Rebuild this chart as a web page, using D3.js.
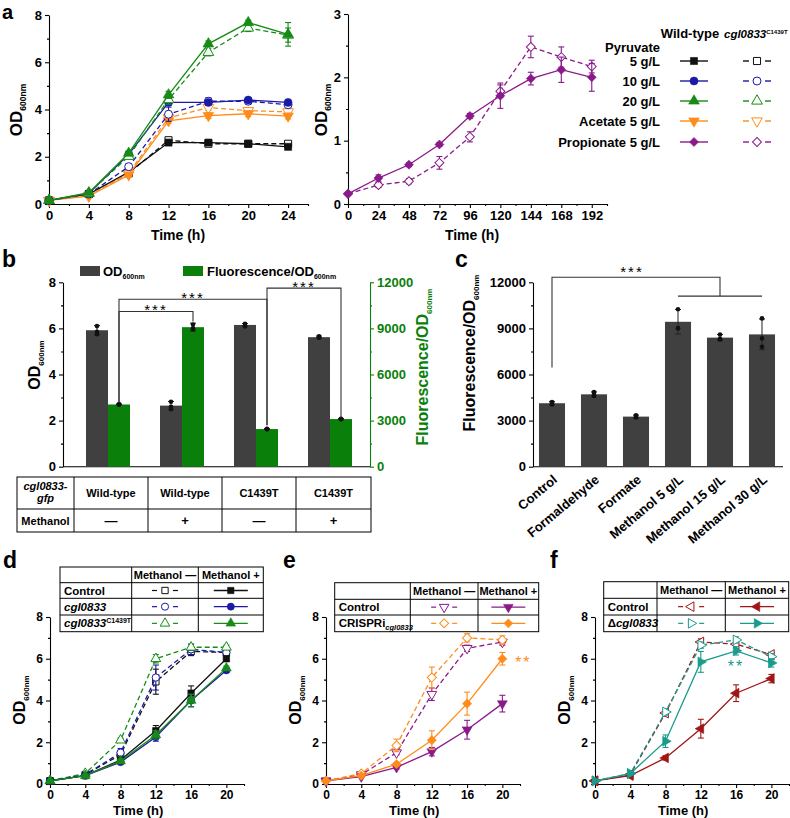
<!DOCTYPE html>
<html>
<head>
<meta charset="utf-8">
<script src="https://cdn.jsdelivr.net/npm/d3@7"></script>
<style>
body { margin: 0; background: #fff; }
svg { font-family: "Liberation Sans", Arial, Helvetica, sans-serif; font-weight: bold; }
</style>
</head>
<body>
<svg id="fig" width="790" height="818"></svg>
<script>
// ---------- data: panel a
var timeA = [0, 4, 8, 12, 16, 20, 24];
var pyr5WT = [0.15, 0.42, 1.35, 2.6, 2.6, 2.55, 2.42];
var pyr5WTErr = [0.02, 0.04, 0.08, 0.08, 0.08, 0.06, 0.1];
var pyr5Mut = [0.15, 0.42, 1.3, 2.7, 2.55, 2.55, 2.55];
var pyr5MutErr = [0.02, 0.04, 0.08, 0.1, 0.12, 0.06, 0.08];
var pyr10WT = [0.15, 0.45, 2.1, 4.3, 4.3, 4.4, 4.3];
var pyr10WTErr = [0.02, 0.04, 0.1, 0.12, 0.12, 0.1, 0.08];
var pyr10Mut = [0.15, 0.42, 1.58, 3.8, 4.35, 4.35, 4.2];
var pyr10MutErr = [0.02, 0.04, 0.12, 0.3, 0.15, 0.12, 0.12];
var pyr20WT = [0.15, 0.48, 2.15, 4.62, 6.78, 7.68, 7.18];
var pyr20WTErr = [0.02, 0.04, 0.1, 0.15, 0.12, 0.1, 0.5];
var pyr20Mut = [0.15, 0.45, 2.02, 4.42, 6.42, 7.45, 7.15];
var pyr20MutErr = [0.02, 0.04, 0.12, 0.2, 0.15, 0.15, 0.3];
var ace5WT = [0.15, 0.33, 1.23, 3.52, 3.74, 3.82, 3.72];
var ace5WTErr = [0.02, 0.04, 0.08, 0.1, 0.12, 0.12, 0.12];
var ace5Mut = [0.15, 0.36, 1.3, 3.65, 4.08, 3.95, 3.9];
var ace5MutErr = [0.02, 0.04, 0.08, 0.15, 0.12, 0.12, 0.1];

var timeProp = [0, 24, 48, 72, 96, 120, 144, 168, 192];
var propWT = [0.16, 0.41, 0.62, 0.94, 1.39, 1.71, 1.98, 2.12, 2.0];
var propWTErr = [0.02, 0.05, 0.03, 0.03, 0.04, 0.2, 0.1, 0.2, 0.22];
var propMut = [0.16, 0.3, 0.36, 0.65, 1.06, 1.78, 2.48, 2.32, 2.17];
var propMutErr = [0.02, 0.04, 0.04, 0.1, 0.08, 0.1, 0.17, 0.16, 0.1];

var legendA = [['Pyruvate', '5 g/L'], ['10 g/L'], ['20 g/L'], ['Acetate 5 g/L'], ['Propionate 5 g/L']];

// ---------- data: panel b
var bReporter = ['Wild-type', 'Wild-type', 'C1439T', 'C1439T'];
var bMethanol = ['\u2014', '+', '\u2014', '+'];
var bOD = [5.92, 2.65, 6.15, 5.62];
var bODErr = [0.2, 0.18, 0.06, 0.05];
var bODDots = [[6.1, 5.85, 5.75], [2.82, 2.6, 2.5], [6.2, 6.12, 6.08], [5.66, 5.6, 5.6]];
var bFl = [4050, 9080, 2450, 3100];
var bFlErr = [40, 260, 40, 40];
var bFlDots = [[4060, 4040, 4050], [9250, 9000, 8950], [2440, 2460, 2450], [3100, 3110, 3090]];

// ---------- data: panel c
var cCats = ['Control', 'Formaldehyde', 'Formate', 'Methanol 5 g/L', 'Methanol 15 g/L', 'Methanol 30 g/L'];
var cVals = [4130, 4710, 3260, 9430, 8400, 8610];
var cErr = [120, 160, 100, 800, 200, 1000];
var cDots = [[4050, 4200, 4150], [4600, 4850, 4700], [3200, 3350, 3250], [10250, 9030, 9000], [8600, 8280, 8320], [9650, 8350, 7800]];

// ---------- data: panels d, e, f
var timeD = [0, 4, 8, 12, 16, 20];
var dCtrlMinus = [0.15, 0.45, 1.4, 4.9, 6.35, 6.3];
var dCtrlMinusErr = [0.02, 0.05, 0.2, 0.6, 0.2, 0.15];
var dCglMinus = [0.15, 0.45, 1.5, 5.1, 6.45, 6.3];
var dCglMinusErr = [0.02, 0.05, 0.2, 0.6, 0.25, 0.15];
var dMutMinus = [0.15, 0.5, 2.1, 6.0, 6.55, 6.55];
var dMutMinusErr = [0.02, 0.05, 0.1, 0.2, 0.15, 0.1];
var dCtrlPlus = [0.15, 0.4, 1.15, 2.55, 4.35, 6.0];
var dCtrlPlusErr = [0.02, 0.04, 0.1, 0.25, 0.35, 0.1];
var dCglPlus = [0.15, 0.4, 1.05, 2.25, 4.0, 5.45];
var dCglPlusErr = [0.02, 0.04, 0.08, 0.2, 0.3, 0.1];
var dMutPlus = [0.15, 0.4, 1.1, 2.35, 4.0, 5.55];
var dMutPlusErr = [0.02, 0.04, 0.08, 0.2, 0.3, 0.1];

var eCtrlMinus = [0.15, 0.45, 1.5, 4.3, 6.5, 6.8];
var eCtrlMinusErr = [0.02, 0.05, 0.1, 0.3, 0.15, 0.15];
var eCrMinus = [0.15, 0.5, 1.85, 5.1, 7.0, 6.9];
var eCrMinusErr = [0.02, 0.05, 0.3, 0.5, 0.2, 0.2];
var eCtrlPlus = [0.15, 0.35, 0.8, 1.55, 2.6, 3.85];
var eCtrlPlusErr = [0.02, 0.04, 0.08, 0.2, 0.45, 0.4];
var eCrPlus = [0.15, 0.4, 0.95, 2.1, 3.85, 6.0];
var eCrPlusErr = [0.02, 0.04, 0.08, 0.45, 0.55, 0.3];

var fCtrlMinus = [0.15, 0.45, 3.4, 6.8, 6.7, 6.2];
var fCtrlMinusErr = [0.02, 0.05, 0.15, 0.15, 0.15, 0.1];
var fDelMinus = [0.15, 0.5, 3.45, 6.65, 6.9, 6.1];
var fDelMinusErr = [0.02, 0.05, 0.15, 0.15, 0.15, 0.15];
var fCtrlPlus = [0.15, 0.4, 1.25, 2.65, 4.35, 5.05];
var fCtrlPlusErr = [0.02, 0.04, 0.1, 0.45, 0.4, 0.2];
var fDelPlus = [0.15, 0.5, 2.05, 5.85, 6.38, 5.8];
var fDelPlusErr = [0.02, 0.05, 0.3, 0.5, 0.2, 0.2];

// colours
var cBlack = '#111111', cBlue = '#1a1aa6', cGreen = '#168c16', cOrange = '#ff8c1a',
    cPurple = '#8a1a8a', cRed = '#a01515', cTeal = '#1a9c8c', cBar = '#404040', cBarGreen = '#0a800a';
var FONT = '"Liberation Sans", Arial, Helvetica, sans-serif';

var svg = d3.select('#fig');

// ---------- helpers
function styleAxis(a, fs, color) {
    a.attr('font-family', FONT).attr('font-size', fs).attr('font-weight', 'bold');
    a.selectAll('path, line').attr('stroke', color || '#000').attr('stroke-width', 1.1);
    a.selectAll('text').attr('fill', color || '#000');
}

function drawAxis(g, make, scale, major, minor, tr, fs, color, pad) {
    var a = g.append('g').attr('transform', tr)
        .call(make(scale).tickValues(major).tickSize(4).tickSizeOuter(0).tickPadding(pad || 3).tickFormat(d3.format('d')));
    styleAxis(a, fs, color);
    if (minor) {
        var m = g.append('g').attr('transform', tr)
            .call(make(scale).tickValues(minor).tickSize(2).tickSizeOuter(0).tickFormat(''));
        m.select('.domain').remove();
        styleAxis(m, fs, color);
    }
    return a;
}

var ROT = {square: 0, circle: 0, diamond: 45, up: 0, down: 180, left: -90, right: 90};
function drawMarker(g, cx, cy, type, color, open, size) {
    var s = type === 'circle' ? d3.symbolCircle : (type === 'square' || type === 'diamond') ? d3.symbolSquare : d3.symbolTriangle;
    g.append('path').attr('d', d3.symbol(s, size)())
        .attr('transform', 'translate(' + cx + ',' + cy + ') rotate(' + ROT[type] + ')')
        .attr('fill', open ? '#fff' : color)
        .attr('stroke', color).attr('stroke-width', open ? 1 : 0.6);
}

function drawSeries(g, x, y, xs, ys, errs, st) {
    var line = d3.line().x(function(d, i) { return x(xs[i]); }).y(function(d) { return y(d); });
    g.append('path').datum(ys).attr('d', line).attr('fill', 'none')
        .attr('stroke', st.color).attr('stroke-width', 1.3)
        .attr('stroke-dasharray', st.open ? '5,3' : null);
    ys.forEach(function(v, i) {
        var cx = x(xs[i]), e = errs[i];
        var eg = g.append('g').attr('stroke', st.color).attr('stroke-width', 1.1);
        eg.append('line').attr('x1', cx).attr('x2', cx).attr('y1', y(v - e)).attr('y2', y(v + e));
        [v - e, v + e].forEach(function(w) {
            eg.append('line').attr('x1', cx - 3).attr('x2', cx + 3).attr('y1', y(w)).attr('y2', y(w));
        });
    });
    ys.forEach(function(v, i) {
        drawMarker(g, x(xs[i]), y(v), st.shape, st.color, st.open, st.size || 45);
    });
}

function odTitle(g, x, y, fs, color, pre) {
    var t = g.append('text').attr('transform', 'translate(' + x + ',' + y + ') rotate(-90)')
        .attr('text-anchor', 'middle').attr('font-size', fs).attr('fill', color || '#000');
    t.append('tspan').text((pre || '') + 'OD');
    t.append('tspan').attr('font-size', fs * 0.5).attr('dy', fs * 0.25).text('600nm');
}

function panelLetter(x, y, s, fs) {
    svg.append('text').attr('x', x).attr('y', y).attr('font-size', fs || 23).text(s);
}

function stars(g, x, y, txt, color, fs) {
    g.append('text').attr('x', x).attr('y', y).attr('text-anchor', 'middle')
        .attr('font-size', fs || 15).attr('font-weight', 'normal').attr('letter-spacing', 2)
        .attr('fill', color || '#000').text(txt);
}

// ---------- panel a (left)
var gA = svg.append('g');
var xA = d3.scaleLinear([0, 26], [49, 308]);
var yA = d3.scaleLinear([0, 8], [204, 15]);
drawAxis(gA, d3.axisBottom, xA, d3.range(0, 25, 4), d3.range(2, 27, 4), 'translate(0,' + yA(0) + ')', 13);
drawAxis(gA, d3.axisLeft, yA, [0, 2, 4, 6, 8], [1, 3, 5, 7], 'translate(' + xA(0) + ',0)', 13);
gA.append('text').attr('x', 178).attr('y', 240).attr('text-anchor', 'middle').attr('font-size', 14).text('Time (h)');
odTitle(gA, 22, 110, 17);
[
    [pyr5Mut, pyr5MutErr, cBlack, 'square', true], [pyr5WT, pyr5WTErr, cBlack, 'square', false],
    [ace5Mut, ace5MutErr, cOrange, 'down', true], [ace5WT, ace5WTErr, cOrange, 'down', false],
    [pyr10Mut, pyr10MutErr, cBlue, 'circle', true], [pyr10WT, pyr10WTErr, cBlue, 'circle', false],
    [pyr20Mut, pyr20MutErr, cGreen, 'up', true], [pyr20WT, pyr20WTErr, cGreen, 'up', false]
].forEach(function(s) {
    drawSeries(gA, xA, yA, timeA, s[0], s[1], {color: s[2], shape: s[3], open: s[4], size: 50});
});

// ---------- panel a (right)
var gA2 = svg.append('g');
var xA2 = d3.scaleLinear([0, 204], [348, 607]);
var yA2 = d3.scaleLinear([0, 3], [204, 14]);
drawAxis(gA2, d3.axisBottom, xA2, d3.range(0, 193, 24), d3.range(12, 205, 24), 'translate(0,' + yA2(0) + ')', 13);
drawAxis(gA2, d3.axisLeft, yA2, [0, 1, 2, 3], [0.5, 1.5, 2.5], 'translate(' + xA2(0) + ',0)', 13);
gA2.append('text').attr('x', 472).attr('y', 240).attr('text-anchor', 'middle').attr('font-size', 14).text('Time (h)');
odTitle(gA2, 327, 110, 17);
drawSeries(gA2, xA2, yA2, timeProp, propMut, propMutErr, {color: cPurple, shape: 'diamond', open: true, size: 40});
drawSeries(gA2, xA2, yA2, timeProp, propWT, propWTErr, {color: cPurple, shape: 'diamond', open: false, size: 40});

// legend a
var legA = svg.append('g').attr('font-size', 13);
legA.append('text').attr('x', 690).attr('y', 38).attr('text-anchor', 'middle').text('Wild-type');
var hdr = legA.append('text').attr('x', 724).attr('y', 38).attr('font-size', 11.5);
hdr.append('tspan').attr('font-style', 'italic').text('cgl0833');
hdr.append('tspan').attr('font-size', 6).attr('dy', -4).text('C1439T');
var legY = [61, 81, 101, 121, 142];
var legStyle = [[cBlack, 'square'], [cBlue, 'circle'], [cGreen, 'up'], [cOrange, 'down'], [cPurple, 'diamond']];
legendA.forEach(function(lab, i) {
    var cy = legY[i];
    if (lab.length === 2) {
        legA.append('text').attr('x', 660).attr('y', cy - 9).attr('text-anchor', 'end').text(lab[0]);
        legA.append('text').attr('x', 660).attr('y', cy + 4.5).attr('text-anchor', 'end').text(lab[1]);
    } else {
        legA.append('text').attr('x', 660).attr('y', cy + 4.5).attr('text-anchor', 'end').text(lab[0]);
    }
    var col = legStyle[i][0], sh = legStyle[i][1];
    legA.append('line').attr('x1', 680).attr('x2', 708).attr('y1', cy).attr('y2', cy).attr('stroke', col).attr('stroke-width', 1.4);
    drawMarker(legA, 694, cy, sh, col, false, sh === 'diamond' ? 40 : 50);
    [[743, 749], [765, 771]].forEach(function(p) {
        legA.append('line').attr('x1', p[0]).attr('x2', p[1]).attr('y1', cy).attr('y2', cy).attr('stroke', col).attr('stroke-width', 1.4);
    });
    drawMarker(legA, 757, cy, sh, col, true, sh === 'diamond' ? 40 : 50);
});

// ---------- panel b
var gB = svg.append('g');
var xB = d3.scaleBand(d3.range(bOD.length), [71, 367]);
var yB = d3.scaleLinear([0, 8], [466.7, 282.3]);
var yB2 = d3.scaleLinear([0, 12000], [466.7, 282.3]);
var barW = 22;
drawAxis(gB, d3.axisLeft, yB, [0, 2, 4, 6, 8], [1, 3, 5, 7], 'translate(63,0)', 13);
drawAxis(gB, d3.axisRight, yB2, [0, 3000, 6000, 9000, 12000], [1500, 4500, 7500, 10500], 'translate(370,0)', 13, cBarGreen);
gB.append('line').attr('x1', 63).attr('x2', 370).attr('y1', yB(0)).attr('y2', yB(0)).attr('stroke', '#000').attr('stroke-width', 1.1);
odTitle(gB, 40, 365, 16);
odTitle(gB, 428, 367, 16, cBarGreen, 'Fluorescence/');

function cx0(i) { return xB(i) + xB.bandwidth() / 2; }
bOD.forEach(function(v, i) {
    var c = cx0(i);
    gB.append('rect').attr('x', c - barW).attr('width', barW).attr('y', yB(v)).attr('height', yB(0) - yB(v)).attr('fill', cBar);
    gB.append('rect').attr('x', c).attr('width', barW).attr('y', yB2(bFl[i])).attr('height', yB2(0) - yB2(bFl[i])).attr('fill', cBarGreen);
    [[c - barW / 2, yB, v, bODErr[i], bODDots[i]], [c + barW / 2, yB2, bFl[i], bFlErr[i], bFlDots[i]]].forEach(function(p) {
        var px = p[0], sc = p[1], val = p[2], e = p[3];
        var eg = gB.append('g').attr('stroke', '#222').attr('stroke-width', 1);
        eg.append('line').attr('x1', px).attr('x2', px).attr('y1', sc(val - e)).attr('y2', sc(val + e));
        [val - e, val + e].forEach(function(w) {
            eg.append('line').attr('x1', px - 3).attr('x2', px + 3).attr('y1', sc(w)).attr('y2', sc(w));
        });
        p[4].forEach(function(dv) {
            gB.append('circle').attr('cx', px).attr('cy', sc(dv)).attr('r', 2.3).attr('fill', '#111');
        });
    });
});

// brackets b (fluorescence units)
var bBrackets = [
    {a: 2, b: 3, top: 11620, ea: 2700, eb: 3200},
    {a: 0, b: 2, top: 10900, ea: 4200, eb: 2700},
    {a: 0, b: 1, top: 10100, ea: 4200, eb: 9450}
];
bBrackets.forEach(function(br) {
    var xa = cx0(br.a) + barW / 2, xb = cx0(br.b) + barW / 2, yt = yB2(br.top);
    gB.append('path').attr('d', 'M' + xa + ',' + yB2(br.ea) + 'V' + yt + 'H' + xb + 'V' + yB2(br.eb))
        .attr('fill', 'none').attr('stroke', '#333').attr('stroke-width', 1.1);
    stars(gB, (xa + xb) / 2, yt + 4, '***');
});

// legend b
gB.append('rect').attr('x', 80).attr('y', 266).attr('width', 20).attr('height', 10).attr('fill', cBar);
var lb1 = gB.append('text').attr('x', 103).attr('y', 276).attr('font-size', 13);
lb1.append('tspan').text('OD');
lb1.append('tspan').attr('font-size', 7).attr('dy', 3).text('600nm');
gB.append('rect').attr('x', 183).attr('y', 266).attr('width', 20).attr('height', 10).attr('fill', cBarGreen);
var lb2 = gB.append('text').attr('x', 207).attr('y', 276).attr('font-size', 13);
lb2.append('tspan').text('Fluorescence/OD');
lb2.append('tspan').attr('font-size', 7).attr('dy', 3).text('600nm');

// table b
var tB = gB.append('g').attr('font-size', 11);
var tCols = [17].concat(d3.range(bOD.length).map(function(i) { return xB(i) + 3; })).concat([xB.range()[1] + 4]);
var tRows = [477, 509, 532];
tB.append('rect').attr('x', tCols[0]).attr('y', tRows[0]).attr('width', tCols[tCols.length - 1] - tCols[0])
    .attr('height', tRows[2] - tRows[0]).attr('fill', 'none').attr('stroke', '#000').attr('stroke-width', 1);
tB.append('line').attr('x1', tCols[0]).attr('x2', tCols[tCols.length - 1]).attr('y1', tRows[1]).attr('y2', tRows[1]).attr('stroke', '#000');
tCols.slice(1, -1).forEach(function(c) {
    tB.append('line').attr('x1', c).attr('x2', c).attr('y1', tRows[0]).attr('y2', tRows[2]).attr('stroke', '#000');
});
var mid0 = (tCols[0] + tCols[1]) / 2;
tB.append('text').attr('x', mid0).attr('y', 490).attr('text-anchor', 'middle').attr('font-style', 'italic').text('cgl0833-');
tB.append('text').attr('x', mid0).attr('y', 502).attr('text-anchor', 'middle').attr('font-style', 'italic').text('gfp');
tB.append('text').attr('x', mid0).attr('y', 524.5).attr('text-anchor', 'middle').text('Methanol');
bReporter.forEach(function(r, i) {
    var m = (tCols[i + 1] + tCols[i + 2]) / 2;
    tB.append('text').attr('x', m).attr('y', 497).attr('text-anchor', 'middle').text(r);
    tB.append('text').attr('x', m).attr('y', 525).attr('text-anchor', 'middle').attr('font-size', 13).text(bMethanol[i]);
});

// ---------- panel c
var gC = svg.append('g');
var xC = d3.scaleBand(cCats, [531, 783]);
var yC = d3.scaleLinear([0, 12000], [466.7, 282.3]);
var cW = xC.bandwidth() * 0.62;
drawAxis(gC, d3.axisLeft, yC, [0, 3000, 6000, 9000, 12000], [1500, 4500, 7500, 10500], 'translate(533,0)', 13);
gC.append('line').attr('x1', 533).attr('x2', 783).attr('y1', yC(0)).attr('y2', yC(0)).attr('stroke', '#000').attr('stroke-width', 1.1);
odTitle(gC, 475, 353, 16, '#000', 'Fluorescence/');
cCats.forEach(function(cat, i) {
    var c = xC(cat) + xC.bandwidth() / 2, v = cVals[i], e = cErr[i];
    gC.append('rect').attr('x', c - cW / 2).attr('width', cW).attr('y', yC(v)).attr('height', yC(0) - yC(v)).attr('fill', cBar);
    var eg = gC.append('g').attr('stroke', '#222').attr('stroke-width', 1);
    eg.append('line').attr('x1', c).attr('x2', c).attr('y1', yC(v - e)).attr('y2', yC(v + e));
    [v - e, v + e].forEach(function(w) {
        eg.append('line').attr('x1', c - 3).attr('x2', c + 3).attr('y1', yC(w)).attr('y2', yC(w));
    });
    cDots[i].forEach(function(dv) {
        gC.append('circle').attr('cx', c).attr('cy', yC(dv)).attr('r', 2.3).attr('fill', '#111');
    });
    gC.append('text').attr('transform', 'translate(' + (c + 6) + ',481) rotate(-40)')
        .attr('text-anchor', 'end').attr('font-size', 13).text(cat);
});
(function() {
    var xc = function(k) { return xC(cCats[k]) + xC.bandwidth() / 2; };
    var yt = yC(12330), yl = yC(11100);
    gC.append('path').attr('d', 'M' + xc(0) + ',' + yC(6450) + 'V' + yt + 'H' + xc(4) + 'V' + yl)
        .attr('fill', 'none').attr('stroke', '#333').attr('stroke-width', 1.1);
    gC.append('line').attr('x1', xc(3)).attr('x2', xc(5)).attr('y1', yl).attr('y2', yl).attr('stroke', '#333').attr('stroke-width', 1.1);
    stars(gC, (xc(0) + xc(4)) / 2 - 4, yt + 0, '***');
})();

// ---------- panels d, e, f
function growthPanel(x0, series) {
    var g = svg.append('g');
    var x = d3.scaleLinear([0, 22], [x0, x0 + 194]);
    var y = d3.scaleLinear([0, 8], [784, 617]);
    drawAxis(g, d3.axisBottom, x, d3.range(0, 21, 4), d3.range(2, 23, 4), 'translate(0,' + y(0) + ')', 12, null, 2);
    drawAxis(g, d3.axisLeft, y, [0, 2, 4, 6, 8], [1, 3, 5, 7], 'translate(' + x0 + ',0)', 12);
    g.append('text').attr('x', x(10)).attr('y', 815).attr('text-anchor', 'middle').attr('font-size', 13).text('Time (h)');
    odTitle(g, x0 - 25, 700, 16);
    series.forEach(function(s) {
        drawSeries(g, x, y, timeD, s[0], s[1], {color: s[2], shape: s[3], open: s[4], size: 42});
    });
    return {g: g, x: x, y: y};
}

function seriesTable(cols, rows, entries) {
    var t = svg.append('g').attr('font-size', 11);
    var last = rows[rows.length - 1];
    t.append('rect').attr('x', cols[0]).attr('y', rows[0]).attr('width', cols[3] - cols[0]).attr('height', last - rows[0])
        .attr('fill', '#fff').attr('stroke', '#000').attr('stroke-width', 1);
    rows.slice(1, -1).forEach(function(r) {
        t.append('line').attr('x1', cols[0]).attr('x2', cols[3]).attr('y1', r).attr('y2', r).attr('stroke', '#000');
    });
    cols.slice(1, -1).forEach(function(c) {
        t.append('line').attr('x1', c).attr('x2', c).attr('y1', rows[0]).attr('y2', last).attr('stroke', '#000');
    });
    ['Methanol \u2014', 'Methanol +'].forEach(function(h, i) {
        t.append('text').attr('x', (cols[i + 1] + cols[i + 2]) / 2).attr('y', (rows[0] + rows[1]) / 2 + 4)
            .attr('text-anchor', 'middle').text(h);
    });
    entries.forEach(function(en, i) {
        var cy = (rows[i + 1] + rows[i + 2]) / 2;
        var txt = t.append('text').attr('x', cols[0] + 4).attr('y', cy + 4).attr('font-size', 11.5);
        en.label(txt);
        var m1 = (cols[1] + cols[2]) / 2, m2 = (cols[2] + cols[3]) / 2;
        [[-13, -8], [8, 13]].forEach(function(p) {
            t.append('line').attr('x1', m1 + p[0]).attr('x2', m1 + p[1]).attr('y1', cy).attr('y2', cy).attr('stroke', en.color).attr('stroke-width', 1.2);
        });
        drawMarker(t, m1, cy, en.shape, en.color, true, 40);
        t.append('line').attr('x1', m2 - 17).attr('x2', m2 + 17).attr('y1', cy).attr('y2', cy).attr('stroke', en.color).attr('stroke-width', 1.4);
        drawMarker(t, m2, cy, en.shape, en.color, false, 40);
    });
}
function plain(s) { return function(t) { t.text(s); }; }
function ital(s, sup) {
    return function(t) {
        t.append('tspan').attr('font-style', 'italic').text(s);
        if (sup) t.append('tspan').attr('font-size', 7).attr('dy', -4).text(sup);
    };
}

// panel d
growthPanel(50, [
    [dCtrlMinus, dCtrlMinusErr, cBlack, 'square', true], [dCglMinus, dCglMinusErr, cBlue, 'circle', true],
    [dMutMinus, dMutMinusErr, cGreen, 'up', true],
    [dCtrlPlus, dCtrlPlusErr, cBlack, 'square', false], [dCglPlus, dCglPlusErr, cBlue, 'circle', false],
    [dMutPlus, dMutPlusErr, cGreen, 'up', false]
]);
seriesTable([60, 131.7, 198.3, 263.3], [567, 582.7, 598.3, 615, 631.7], [
    {label: plain('Control'), color: cBlack, shape: 'square'},
    {label: ital('cgl0833'), color: cBlue, shape: 'circle'},
    {label: ital('cgl0833', 'C1439T'), color: cGreen, shape: 'up'}
]);

// panel e
var pE = growthPanel(326, [
    [eCtrlMinus, eCtrlMinusErr, cPurple, 'down', true], [eCrMinus, eCrMinusErr, cOrange, 'diamond', true],
    [eCtrlPlus, eCtrlPlusErr, cPurple, 'down', false], [eCrPlus, eCrPlusErr, cOrange, 'diamond', false]
]);
stars(pE.g, pE.x(20) + 21, pE.y(eCrPlus[5]) + 9, '**', cOrange, 16);
seriesTable([334.7, 410.3, 478, 538.7], [582.7, 599.3, 615, 631.7], [
    {label: plain('Control'), color: cPurple, shape: 'down'},
    {label: function(t) {
        t.append('tspan').text('CRISPRi');
        t.append('tspan').attr('font-size', 7.5).attr('font-style', 'italic').attr('dy', 3).text('cgl0833');
    }, color: cOrange, shape: 'diamond'}
]);

// panel f
var pF = growthPanel(595, [
    [fCtrlMinus, fCtrlMinusErr, cRed, 'left', true], [fDelMinus, fDelMinusErr, cTeal, 'right', true],
    [fCtrlPlus, fCtrlPlusErr, cRed, 'left', false], [fDelPlus, fDelPlusErr, cTeal, 'right', false]
]);
stars(pF.g, pF.x(16), pF.y(fDelPlus[4]) + 21, '**', cTeal, 16);
seriesTable([603.7, 657, 725.3, 788.7], [581.7, 598.3, 615, 631.7], [
    {label: plain('Control'), color: cRed, shape: 'left'},
    {label: function(t) { t.append('tspan').text('\u0394'); t.append('tspan').attr('font-style', 'italic').text('cgl0833'); }, color: cTeal, shape: 'right'}
]);

// panel letters
panelLetter(2, 19, 'a', 20);
panelLetter(2, 267, 'b');
panelLetter(455, 267, 'c');
panelLetter(3, 568, 'd');
panelLetter(283, 568, 'e');
panelLetter(550, 568, 'f');
</script>
</body>
</html>
